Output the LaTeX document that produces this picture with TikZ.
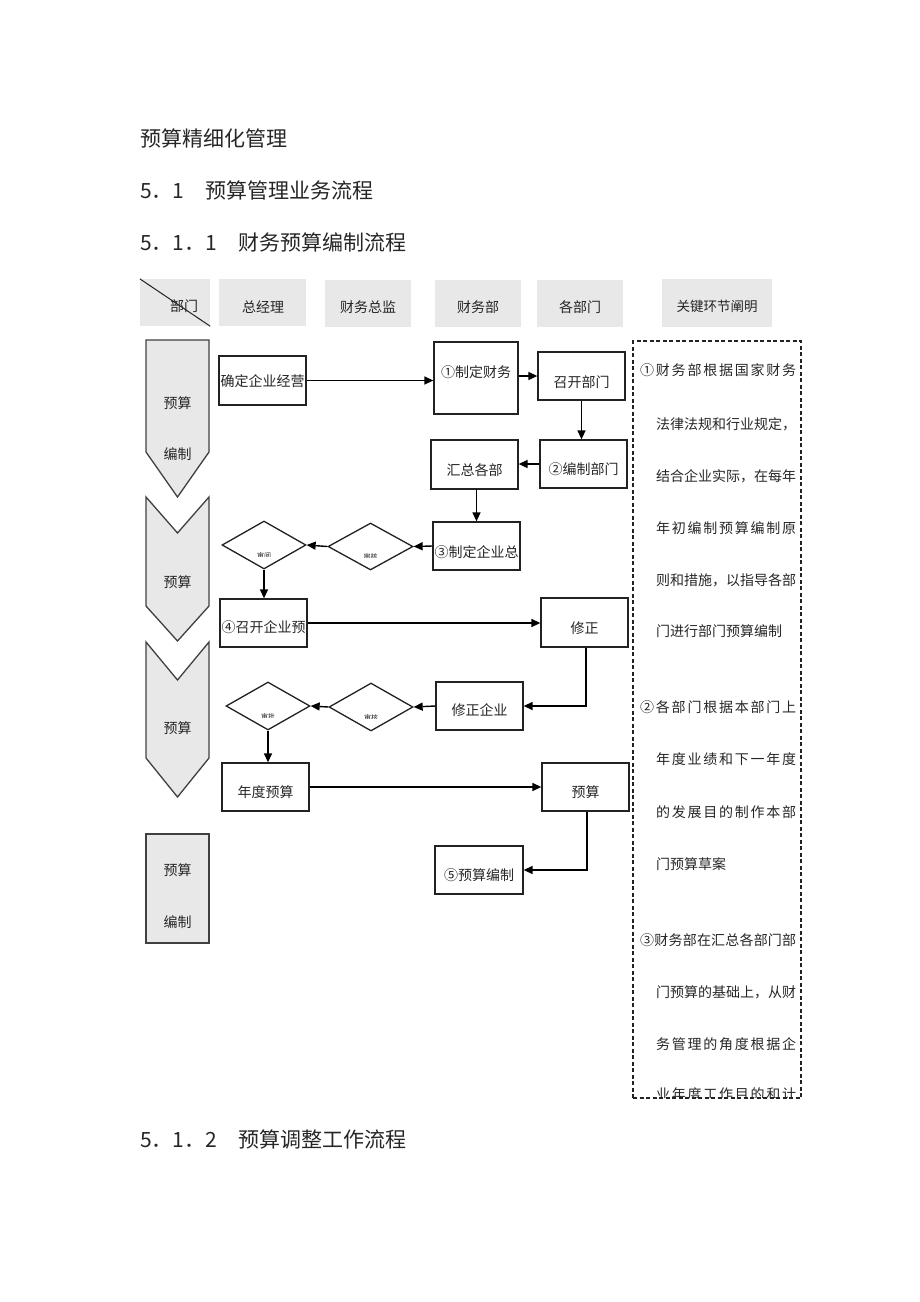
\documentclass[tikz,border=0pt]{standalone}
\usepackage{fontspec}
\setmainfont{Noto Sans CJK SC}
\usetikzlibrary{shapes.geometric,arrows.meta}
\definecolor{hdrgray}{HTML}{E8E8E8}
\definecolor{boxc}{HTML}{222222}
\definecolor{chevc}{HTML}{404040}
\definecolor{txtc}{HTML}{262626}
\makeatletter
\newcommand\sprline[2]{\makebox[#1][s]{\def\spr@sep{}\@tfor\spr@c:=#2\do{\spr@sep\spr@c\def\spr@sep{\hfill}}}}
\makeatother
\begin{document}
\begin{tikzpicture}[x=1pt,y=-1pt,
 box/.style={draw=boxc,line width=1.3pt,inner sep=0pt,fill=white},
 hdr/.style={fill=hdrgray,inner sep=0pt},
 dia/.style={diamond,draw=boxc,line width=1.3pt,inner sep=0pt,fill=white},
 lbl/.style={font=\fontsize{14}{14}\selectfont,text=txtc,inner sep=0pt},
 hd/.style={font=\fontsize{21}{21}\selectfont,anchor=west,inner sep=0pt,text=txtc},
 flow/.style={line width=1.4pt,draw=black,-{Triangle[length=9pt,width=8pt]}},
 chev/.style={fill=hdrgray,draw=chevc,line width=1.3pt},
 note/.style={font=\fontsize{14}{14}\selectfont,anchor=west,inner sep=0pt,text=txtc},
 tinyt/.style={font=\fontsize{7}{7}\selectfont,inner sep=0pt,text=txtc}
]
\useasboundingbox (0,0) rectangle (920,1302);

% headings
\node[hd] (h1) at (140,138) {预算精细化管理};
\node[hd] (h2) at (140,190) {5．1　预算管理业务流程};
\node[hd] (h3) at (140,242) {5．1．1　财务预算编制流程};
\node[hd] (h4) at (140,1139) {5．1．2　预算调整工作流程};

% column headers
\node[hdr,minimum width=70pt,minimum height=47pt] (c0) at (175,302.5) {};
\draw[line width=1pt,draw=boxc] (c0.north west) -- (c0.south east);
\node[lbl] (c0t) at (184,306) {部门};
\node[hdr,minimum width=87pt,minimum height=47pt] (c1) at (262.5,302.5) {};
\node[lbl] (c1t) at (263,307) {总经理};
\node[hdr,minimum width=86pt,minimum height=47pt] (c2) at (368,303.5) {};
\node[lbl] (c2t) at (368,307) {财务总监};
\node[hdr,minimum width=86pt,minimum height=47pt] (c3) at (478,303.5) {};
\node[lbl] (c3t) at (478,307) {财务部};
\node[hdr,minimum width=86pt,minimum height=47pt] (c4) at (580,303.5) {};
\node[lbl] (c4t) at (580,307) {各部门};
\node[hdr,minimum width=110pt,minimum height=48pt] (c5) at (717,303) {};
\node[lbl,font=\fontsize{13.5}{13.5}\selectfont] (c5t) at (717,306) {关键环节阐明};

% phase shapes on the left
\draw[chev] (146,340) -- (209,340) -- (209,452) -- (177.5,497) -- (146,452) -- cycle;
\node[lbl] (p1a) at (177.5,403) {预算};
\node[lbl] (p1b) at (177.5,454) {编制};
\draw[chev] (146,497) -- (177.5,533) -- (209,497) -- (209,606) -- (177.5,641) -- (146,606) -- cycle;
\node[lbl] (p2a) at (177.5,582) {预算};
\draw[chev] (146,642) -- (177.5,680) -- (209,642) -- (209,758) -- (177.5,797) -- (146,758) -- cycle;
\node[lbl] (p3a) at (177.5,728) {预算};
\draw[chev] (146,834) rectangle (209,943);
\node[lbl] (p4a) at (177.5,870) {预算};
\node[lbl] (p4b) at (177.5,922) {编制};

% process boxes
\node[box,minimum width=87pt,minimum height=49pt] (A) at (262.5,380.5) {};
\node[lbl] (At) at (262.5,381) {确定企业经营};
\node[box,minimum width=84pt,minimum height=72pt] (B) at (476,378) {};
\node[lbl] (Bt) at (476,372) {①制定财务};
\node[box,minimum width=87pt,minimum height=48pt] (C) at (581.5,376) {};
\node[lbl] (Ct) at (581.5,382) {召开部门};
\node[box,minimum width=87pt,minimum height=48pt] (D) at (583.5,464) {};
\node[lbl] (Dt) at (583.5,469) {②编制部门};
\node[box,minimum width=87pt,minimum height=49pt] (E) at (474.5,464.5) {};
\node[lbl] (Et) at (474.5,470) {汇总各部};
\node[box,minimum width=87pt,minimum height=48pt] (F) at (476.5,546) {};
\node[lbl] (Ft) at (476.5,552) {③制定企业总};
\node[box,minimum width=87pt,minimum height=48pt] (G) at (263.5,623) {};
\node[lbl] (Gt) at (263.5,627) {④召开企业预};
\node[box,minimum width=87pt,minimum height=49pt] (H) at (584.5,622.5) {};
\node[lbl] (Ht) at (584.5,628) {修正};
\node[box,minimum width=87pt,minimum height=48pt] (I) at (479.5,706) {};
\node[lbl] (It) at (479.5,710) {修正企业};
\node[box,minimum width=87pt,minimum height=48pt] (J) at (265.5,787) {};
\node[lbl] (Jt) at (265.5,792) {年度预算};
\node[box,minimum width=87pt,minimum height=48pt] (K) at (585.5,787) {};
\node[lbl] (Kt) at (585.5,792) {预算};
\node[box,minimum width=88pt,minimum height=48pt] (L) at (479,870) {};
\node[lbl] (Lt) at (479,875) {⑤预算编制};

% decision diamonds
\node[dia,minimum width=84pt,minimum height=48pt] (D1) at (264,545) {};
\node[dia,minimum width=85pt,minimum height=47pt] (D2) at (370.5,546.5) {};
\node[dia,minimum width=84pt,minimum height=48pt] (D3) at (268,706) {};
\node[dia,minimum width=84pt,minimum height=48pt] (D4) at (371,707) {};
\begin{scope}
\clip (244,545) rectangle (284,556);
\node[tinyt] (D1t) at (264,556) {审阅};
\end{scope}
\begin{scope}
\clip (350,546) rectangle (391,557);
\node[tinyt] (D2t) at (370.5,557) {审核};
\end{scope}
\begin{scope}
\clip (248,706) rectangle (288,717);
\node[tinyt] (D3t) at (268,717) {审批};
\end{scope}
\begin{scope}
\clip (351,707) rectangle (391,718);
\node[tinyt] (D4t) at (371,718) {审核};
\end{scope}

% connectors
\draw[flow] (A.east) -- (A.east -| B.west);
\draw[flow] (C.west -| B.east) -- (C.west);
\draw[flow] (C.south) -- (C.south |- D.north);
\draw[flow] (D.west) -- (D.west -| E.east);
\draw[flow] ([xshift=2pt]E.south) -- ([xshift=2pt]E.south |- F.north);
\draw[flow] (F.west) -- (D2.east);
\draw[flow] (D2.west) -- (D1.east);
\draw[flow] (D1.south) -- (D1.south |- G.north);
\draw[flow] (G.east) -- (G.east -| H.west);
\draw[flow] ([xshift=1.5pt]H.south) |- (I.east);
\draw[flow] (I.west) -- (D4.east);
\draw[flow] (D4.west) -- (D3.east);
\draw[flow] (D3.south) -- (D3.south |- J.north);
\draw[flow] (J.east) -- (J.east -| K.west);
\draw[flow] ([xshift=1.5pt]K.south) |- (L.east);

% key notes column
\node[draw=boxc,line width=1.2pt,dash pattern=on 4pt off 2.5pt,inner sep=0pt,minimum width=168pt,minimum height=757pt] (notes) at (717,719.5) {};
\node[note] (n1) at (640,370) {\sprline{156pt}{①财务部根据国家财务}};
\node[note] (n2) at (656,424) {\sprline{140pt}{法律法规和行业规定，}};
\node[note] (n3) at (656,476) {\sprline{140pt}{结合企业实际，在每年}};
\node[note] (n4) at (656,528) {\sprline{140pt}{年初编制预算编制原}};
\node[note] (n5) at (656,580) {\sprline{140pt}{则和措施，以指导各部}};
\node[note] (n6) at (656,631) {门进行部门预算编制};
\node[note] (n7) at (640,707) {\sprline{156pt}{②各部门根据本部门上}};
\node[note] (n8) at (656,759) {\sprline{140pt}{年度业绩和下一年度}};
\node[note] (n9) at (656,812) {\sprline{140pt}{的发展目的制作本部}};
\node[note] (n10) at (656,864) {门预算草案};
\node[note] (n11) at (640,940) {\sprline{156pt}{③财务部在汇总各部门部}};
\node[note] (n12) at (656,992) {\sprline{140pt}{门预算的基础上，从财}};
\node[note] (n13) at (656,1044) {\sprline{140pt}{务管理的角度根据企}};
\begin{scope}
\clip (633,341) rectangle (801,1097);
\node[note] (n14) at (656,1094) {\sprline{140pt}{业年度工作目的和计}};
\end{scope}
\end{tikzpicture}
\end{document}
